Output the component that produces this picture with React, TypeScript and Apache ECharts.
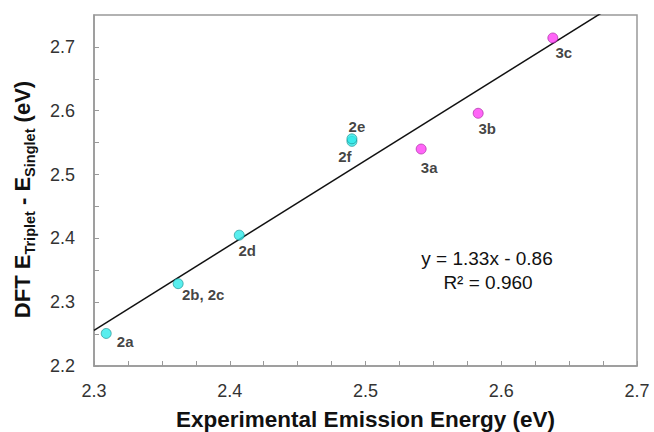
import React, { useEffect, useRef } from "react";
import * as echarts from "echarts";

const pointLabels = ["2a", "2b, 2c", "2d", "2f", "2e", "3a", "3b", "3c"];
const expEnergy = [2.309, 2.362, 2.407, 2.49, 2.49, 2.541, 2.583, 2.638];
const dftEnergy = [2.251, 2.329, 2.405, 2.552, 2.556, 2.54, 2.596, 2.714];
const compoundFamily = ["2", "2", "2", "2", "2", "3", "3", "3"];

const fitX = [2.3, 2.7];
const fitY = [2.256, 2.788];

const xTicksLabeled = [2.3, 2.4, 2.5, 2.6, 2.7];
const yTicksLabeled = [2.2, 2.3, 2.4, 2.5, 2.6, 2.7];

const equationText = "y = 1.33x - 0.86";
const r2Text = "R² = 0.960";

const labelOffsets: Record<string, number[]> = {
  "2a": [19, 8],
  "2b, 2c": [25, 11],
  "2d": [8, 15],
  "2e": [5, -12],
  "2f": [-7, 15],
  "3a": [8, 18],
  "3b": [9, 15],
  "3c": [11, 15],
};

const FONT = "'Liberation Sans', Arial, Helvetica, sans-serif";

export default function App() {
  const ref = useRef<HTMLDivElement>(null);
  useEffect(() => {
    if (!ref.current) return;
    const chart = echarts.init(ref.current, undefined, { renderer: "svg" });

    const makeSeries = (fam: string, color: string, border: string) => ({
      type: "scatter",
      symbol: "circle",
      symbolSize: 10,
      z: 3,
      itemStyle: { color, borderColor: border, borderWidth: 0.8 },
      data: pointLabels
        .map((name, i) => ({ name, i }))
        .filter((d) => compoundFamily[d.i] === fam)
        .map((d) => ({
          name: d.name,
          value: [expEnergy[d.i], dftEnergy[d.i]],
          label: {
            show: true,
            position: "inside",
            offset: labelOffsets[d.name],
            formatter: d.name,
            fontFamily: FONT,
            fontWeight: "bold",
            fontSize: 15,
            color: "#111",
          },
        })),
    });

    const hasLabel = (v: number, list: number[]) =>
      list.some((t) => Math.abs(t - v) < 1e-6);

    chart.setOption({
      animation: false,
      backgroundColor: "#fff",
      grid: {
        left: 94,
        right: 17,
        top: 15,
        bottom: 66,
        show: true,
        borderColor: "#999",
        borderWidth: 1.5,
        outerBoundsMode: "none",
      },
      xAxis: {
        type: "value",
        min: 2.3,
        max: 2.7,
        interval: 0.025,
        name: "Experimental Emission Energy (eV)",
        nameLocation: "middle",
        nameGap: 42,
        nameTextStyle: {
          fontFamily: FONT,
          fontWeight: "bold",
          fontSize: 22.5,
          color: "#111",
        },
        axisLine: { show: true, lineStyle: { color: "#999", width: 1.5 } },
        axisTick: { show: true, inside: true, length: 5, lineStyle: { color: "#999" } },
        splitLine: { show: false },
        axisLabel: {
          interval: 0,
          margin: 16,
          fontFamily: FONT,
          fontSize: 18,
          color: "#333",
          formatter: (v: number) => (hasLabel(v, xTicksLabeled) ? v.toFixed(1) : ""),
        },
      },
      yAxis: {
        type: "value",
        min: 2.2,
        max: 2.75,
        interval: 0.05,
        name: "{m|DFT E}{s|Triplet}{m| - E}{s|Singlet}{m| (eV)}",
        nameLocation: "middle",
        nameGap: 57,
        nameRotate: 90,
        nameTextStyle: {
          padding: [0, 18, 0, 0],
          rich: {
            m: {
              fontFamily: FONT,
              fontWeight: "bold",
              fontSize: 22,
              color: "#111",
              lineHeight: 30,
            },
            s: {
              fontFamily: FONT,
              fontWeight: "bold",
              fontSize: 14.5,
              color: "#111",
              lineHeight: 15,
              padding: [15, 0, 0, 0],
            },
          },
        },
        axisLine: { show: true, lineStyle: { color: "#999", width: 1.5 } },
        axisTick: { show: true, inside: true, length: 5, lineStyle: { color: "#999" } },
        splitLine: { show: false },
        axisLabel: {
          interval: 0,
          margin: 19,
          showMaxLabel: false,
          fontFamily: FONT,
          fontSize: 18,
          color: "#333",
          formatter: (v: number) => (hasLabel(v, yTicksLabeled) ? v.toFixed(1) : ""),
        },
      },
      graphic: [
        {
          type: "text",
          x: 487,
          y: 258,
          style: {
            text: equationText,
            fontFamily: FONT,
            fontSize: 19,
            fill: "#111",
            textAlign: "center",
            textVerticalAlign: "middle",
          },
        },
        {
          type: "text",
          x: 488,
          y: 282,
          style: {
            text: r2Text,
            fontFamily: FONT,
            fontSize: 19,
            fill: "#111",
            textAlign: "center",
            textVerticalAlign: "middle",
          },
        },
      ],
      series: [
        {
          type: "line",
          data: fitX.map((x, i) => [x, fitY[i]]),
          symbol: "none",
          clip: true,
          z: 2,
          lineStyle: { color: "#111", width: 1.5 },
        },
        makeSeries("2", "#2FEAEA", "#178a8a"),
        makeSeries("3", "#FF3EF5", "#a01c9a"),
      ],
    });
    return () => chart.dispose();
  }, []);
  return (
    <div
      ref={ref}
      style={{ position: "fixed", left: 0, top: 0, width: 654, height: 432 }}
    />
  );
}
